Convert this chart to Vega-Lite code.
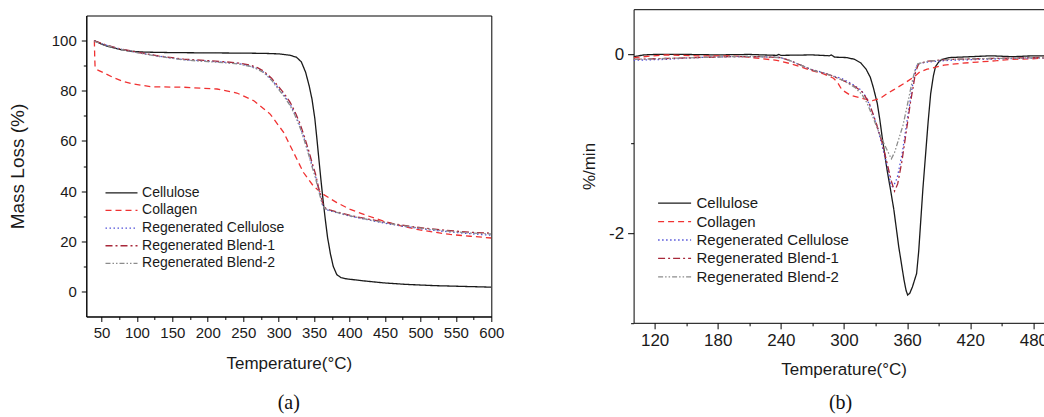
{
  "$schema": "https://vega.github.io/schema/vega-lite/v6.json",
  "autosize": {"type": "pad"},
  "padding": {"left": 7.3, "top": 9, "right": 0, "bottom": 0},
  "background": "white",
  "bounds": "flush",
  "center": true,
  "spacing": 142.3,
  "config": {
    "view": {"stroke": "#000", "strokeWidth": 1},
    "axis": {
      "grid": false,
      "domainColor": "#000",
      "tickColor": "#000",
      "labelColor": "#1a1a1a",
      "titleColor": "#1a1a1a",
      "labelFont": "Liberation Sans",
      "titleFont": "Liberation Sans",
      "titleFontWeight": "normal",
      "labelFlush": false,
      "labelOverlap": false,
      "labelBound": false
    },
    "legend": {
      "orient": "none",
      "symbolSize": 16,
      "symbolStrokeWidth": 1.3,
      "labelFont": "Liberation Sans",
      "labelColor": "#1a1a1a",
      "padding": 0,
      "title": null
    },
    "title": {"font": "Liberation Serif", "fontWeight": "normal", "color": "#111"}
  },
  "datasets": {
    "tga": [
      {"series": "Cellulose", "T": 39.9, "v": 100},
      {"series": "Cellulose", "T": 50, "v": 98.6},
      {"series": "Cellulose", "T": 60, "v": 97.6},
      {"series": "Cellulose", "T": 75, "v": 96.5},
      {"series": "Cellulose", "T": 90, "v": 95.8},
      {"series": "Cellulose", "T": 110, "v": 95.4},
      {"series": "Cellulose", "T": 150, "v": 95.2},
      {"series": "Cellulose", "T": 200, "v": 95.1},
      {"series": "Cellulose", "T": 250, "v": 95.0},
      {"series": "Cellulose", "T": 280, "v": 94.9},
      {"series": "Cellulose", "T": 300, "v": 94.7},
      {"series": "Cellulose", "T": 315, "v": 94.2},
      {"series": "Cellulose", "T": 325, "v": 93.4},
      {"series": "Cellulose", "T": 332, "v": 91.5},
      {"series": "Cellulose", "T": 338, "v": 87.4},
      {"series": "Cellulose", "T": 343, "v": 82},
      {"series": "Cellulose", "T": 347, "v": 76.7},
      {"series": "Cellulose", "T": 351, "v": 69},
      {"series": "Cellulose", "T": 354, "v": 60.7},
      {"series": "Cellulose", "T": 357, "v": 52},
      {"series": "Cellulose", "T": 360, "v": 43.5},
      {"series": "Cellulose", "T": 363, "v": 35.5},
      {"series": "Cellulose", "T": 366, "v": 28.2},
      {"series": "Cellulose", "T": 369, "v": 21.5},
      {"series": "Cellulose", "T": 373, "v": 15},
      {"series": "Cellulose", "T": 377, "v": 10},
      {"series": "Cellulose", "T": 382, "v": 6.7},
      {"series": "Cellulose", "T": 388, "v": 5.5},
      {"series": "Cellulose", "T": 396, "v": 5},
      {"series": "Cellulose", "T": 420, "v": 4.2},
      {"series": "Cellulose", "T": 448, "v": 3.4},
      {"series": "Cellulose", "T": 480, "v": 2.8},
      {"series": "Cellulose", "T": 520, "v": 2.3},
      {"series": "Cellulose", "T": 560, "v": 2.0},
      {"series": "Cellulose", "T": 600, "v": 1.7},
      {"series": "Collagen", "T": 40, "v": 100},
      {"series": "Collagen", "T": 40.5, "v": 93},
      {"series": "Collagen", "T": 41, "v": 89.5},
      {"series": "Collagen", "T": 45, "v": 88.2},
      {"series": "Collagen", "T": 53, "v": 87.2},
      {"series": "Collagen", "T": 65, "v": 85.5},
      {"series": "Collagen", "T": 80, "v": 83.8},
      {"series": "Collagen", "T": 95, "v": 82.7},
      {"series": "Collagen", "T": 120, "v": 81.6},
      {"series": "Collagen", "T": 166, "v": 81.4},
      {"series": "Collagen", "T": 213, "v": 80.7},
      {"series": "Collagen", "T": 241, "v": 79.1},
      {"series": "Collagen", "T": 265, "v": 76},
      {"series": "Collagen", "T": 288, "v": 70.7},
      {"series": "Collagen", "T": 307, "v": 63.4},
      {"series": "Collagen", "T": 321, "v": 55.4},
      {"series": "Collagen", "T": 335, "v": 47.4},
      {"series": "Collagen", "T": 349, "v": 42},
      {"series": "Collagen", "T": 363, "v": 38.7},
      {"series": "Collagen", "T": 382, "v": 35.4},
      {"series": "Collagen", "T": 401, "v": 32.7},
      {"series": "Collagen", "T": 425, "v": 30.2},
      {"series": "Collagen", "T": 448, "v": 28},
      {"series": "Collagen", "T": 470, "v": 26.3},
      {"series": "Collagen", "T": 495, "v": 24.7},
      {"series": "Collagen", "T": 520, "v": 23.6},
      {"series": "Collagen", "T": 542, "v": 22.7},
      {"series": "Collagen", "T": 570, "v": 22},
      {"series": "Collagen", "T": 600, "v": 21.3},
      {"series": "Regenerated Cellulose", "T": 40, "v": 99.8},
      {"series": "Regenerated Cellulose", "T": 55, "v": 98.3},
      {"series": "Regenerated Cellulose", "T": 75, "v": 96.7},
      {"series": "Regenerated Cellulose", "T": 100, "v": 95.3},
      {"series": "Regenerated Cellulose", "T": 130, "v": 93.8},
      {"series": "Regenerated Cellulose", "T": 166, "v": 92.4},
      {"series": "Regenerated Cellulose", "T": 200, "v": 91.8},
      {"series": "Regenerated Cellulose", "T": 222, "v": 91.4},
      {"series": "Regenerated Cellulose", "T": 245, "v": 90.8},
      {"series": "Regenerated Cellulose", "T": 260, "v": 89.8},
      {"series": "Regenerated Cellulose", "T": 270, "v": 88.8},
      {"series": "Regenerated Cellulose", "T": 279, "v": 87.4},
      {"series": "Regenerated Cellulose", "T": 290, "v": 84.5},
      {"series": "Regenerated Cellulose", "T": 297, "v": 82},
      {"series": "Regenerated Cellulose", "T": 307, "v": 78.5},
      {"series": "Regenerated Cellulose", "T": 316, "v": 74.7},
      {"series": "Regenerated Cellulose", "T": 323, "v": 70.8},
      {"series": "Regenerated Cellulose", "T": 330, "v": 66},
      {"series": "Regenerated Cellulose", "T": 336, "v": 61},
      {"series": "Regenerated Cellulose", "T": 342, "v": 55.4},
      {"series": "Regenerated Cellulose", "T": 347, "v": 50.5},
      {"series": "Regenerated Cellulose", "T": 352, "v": 46},
      {"series": "Regenerated Cellulose", "T": 356, "v": 41},
      {"series": "Regenerated Cellulose", "T": 359, "v": 38},
      {"series": "Regenerated Cellulose", "T": 362, "v": 34.5},
      {"series": "Regenerated Cellulose", "T": 366, "v": 32.8},
      {"series": "Regenerated Cellulose", "T": 372, "v": 32.2},
      {"series": "Regenerated Cellulose", "T": 382, "v": 31.4},
      {"series": "Regenerated Cellulose", "T": 401, "v": 30},
      {"series": "Regenerated Cellulose", "T": 425, "v": 28.6},
      {"series": "Regenerated Cellulose", "T": 448, "v": 27.3},
      {"series": "Regenerated Cellulose", "T": 470, "v": 26.2},
      {"series": "Regenerated Cellulose", "T": 495, "v": 25.2},
      {"series": "Regenerated Cellulose", "T": 520, "v": 24.3},
      {"series": "Regenerated Cellulose", "T": 542, "v": 23.7},
      {"series": "Regenerated Cellulose", "T": 570, "v": 23},
      {"series": "Regenerated Cellulose", "T": 600, "v": 22.4},
      {"series": "Regenerated Blend-1", "T": 40, "v": 99.9},
      {"series": "Regenerated Blend-1", "T": 55, "v": 98.4},
      {"series": "Regenerated Blend-1", "T": 75, "v": 96.8},
      {"series": "Regenerated Blend-1", "T": 100, "v": 95.4},
      {"series": "Regenerated Blend-1", "T": 130, "v": 93.9},
      {"series": "Regenerated Blend-1", "T": 166, "v": 92.6},
      {"series": "Regenerated Blend-1", "T": 200, "v": 92.0},
      {"series": "Regenerated Blend-1", "T": 222, "v": 91.6},
      {"series": "Regenerated Blend-1", "T": 245, "v": 91.0},
      {"series": "Regenerated Blend-1", "T": 260, "v": 90.2},
      {"series": "Regenerated Blend-1", "T": 270, "v": 89.2},
      {"series": "Regenerated Blend-1", "T": 279, "v": 87.8},
      {"series": "Regenerated Blend-1", "T": 290, "v": 85.0},
      {"series": "Regenerated Blend-1", "T": 297, "v": 82.6},
      {"series": "Regenerated Blend-1", "T": 307, "v": 79.2},
      {"series": "Regenerated Blend-1", "T": 316, "v": 75.5},
      {"series": "Regenerated Blend-1", "T": 323, "v": 71.6},
      {"series": "Regenerated Blend-1", "T": 330, "v": 67},
      {"series": "Regenerated Blend-1", "T": 336, "v": 62},
      {"series": "Regenerated Blend-1", "T": 342, "v": 56.5},
      {"series": "Regenerated Blend-1", "T": 347, "v": 51.5},
      {"series": "Regenerated Blend-1", "T": 352, "v": 46.8},
      {"series": "Regenerated Blend-1", "T": 356, "v": 41.8},
      {"series": "Regenerated Blend-1", "T": 359, "v": 38.6},
      {"series": "Regenerated Blend-1", "T": 362, "v": 35.2},
      {"series": "Regenerated Blend-1", "T": 366, "v": 33.2},
      {"series": "Regenerated Blend-1", "T": 372, "v": 32.5},
      {"series": "Regenerated Blend-1", "T": 382, "v": 31.7},
      {"series": "Regenerated Blend-1", "T": 401, "v": 30.3},
      {"series": "Regenerated Blend-1", "T": 425, "v": 28.9},
      {"series": "Regenerated Blend-1", "T": 448, "v": 27.7},
      {"series": "Regenerated Blend-1", "T": 470, "v": 26.6},
      {"series": "Regenerated Blend-1", "T": 495, "v": 25.6},
      {"series": "Regenerated Blend-1", "T": 520, "v": 24.8},
      {"series": "Regenerated Blend-1", "T": 542, "v": 24.2},
      {"series": "Regenerated Blend-1", "T": 570, "v": 23.6},
      {"series": "Regenerated Blend-1", "T": 600, "v": 23.2},
      {"series": "Regenerated Blend-2", "T": 40, "v": 99.7},
      {"series": "Regenerated Blend-2", "T": 55, "v": 98.2},
      {"series": "Regenerated Blend-2", "T": 75, "v": 96.6},
      {"series": "Regenerated Blend-2", "T": 100, "v": 95.2},
      {"series": "Regenerated Blend-2", "T": 130, "v": 93.7},
      {"series": "Regenerated Blend-2", "T": 166, "v": 92.3},
      {"series": "Regenerated Blend-2", "T": 200, "v": 91.6},
      {"series": "Regenerated Blend-2", "T": 222, "v": 91.2},
      {"series": "Regenerated Blend-2", "T": 245, "v": 90.6},
      {"series": "Regenerated Blend-2", "T": 260, "v": 89.7},
      {"series": "Regenerated Blend-2", "T": 270, "v": 88.6},
      {"series": "Regenerated Blend-2", "T": 279, "v": 87.2},
      {"series": "Regenerated Blend-2", "T": 290, "v": 84.2},
      {"series": "Regenerated Blend-2", "T": 297, "v": 81.6},
      {"series": "Regenerated Blend-2", "T": 307, "v": 78},
      {"series": "Regenerated Blend-2", "T": 316, "v": 74.2},
      {"series": "Regenerated Blend-2", "T": 323, "v": 70.2},
      {"series": "Regenerated Blend-2", "T": 330, "v": 65.4},
      {"series": "Regenerated Blend-2", "T": 336, "v": 60.4},
      {"series": "Regenerated Blend-2", "T": 342, "v": 54.8},
      {"series": "Regenerated Blend-2", "T": 347, "v": 49.8},
      {"series": "Regenerated Blend-2", "T": 352, "v": 45.2},
      {"series": "Regenerated Blend-2", "T": 356, "v": 40.4},
      {"series": "Regenerated Blend-2", "T": 359, "v": 37.4},
      {"series": "Regenerated Blend-2", "T": 362, "v": 34.2},
      {"series": "Regenerated Blend-2", "T": 366, "v": 32.9},
      {"series": "Regenerated Blend-2", "T": 372, "v": 32.3},
      {"series": "Regenerated Blend-2", "T": 382, "v": 31.5},
      {"series": "Regenerated Blend-2", "T": 401, "v": 30.1},
      {"series": "Regenerated Blend-2", "T": 425, "v": 28.7},
      {"series": "Regenerated Blend-2", "T": 448, "v": 27.5},
      {"series": "Regenerated Blend-2", "T": 470, "v": 26.4},
      {"series": "Regenerated Blend-2", "T": 495, "v": 25.4},
      {"series": "Regenerated Blend-2", "T": 520, "v": 24.6},
      {"series": "Regenerated Blend-2", "T": 542, "v": 23.9},
      {"series": "Regenerated Blend-2", "T": 570, "v": 23.3},
      {"series": "Regenerated Blend-2", "T": 600, "v": 22.9}
    ],
    "dtg": [
      {"series": "Cellulose", "T": 100, "v": -0.03},
      {"series": "Cellulose", "T": 110, "v": -0.01},
      {"series": "Cellulose", "T": 120, "v": -0.005},
      {"series": "Cellulose", "T": 150, "v": -0.005},
      {"series": "Cellulose", "T": 180, "v": -0.01},
      {"series": "Cellulose", "T": 210, "v": -0.005},
      {"series": "Cellulose", "T": 236, "v": -0.015},
      {"series": "Cellulose", "T": 238, "v": -0.005},
      {"series": "Cellulose", "T": 240, "v": -0.015},
      {"series": "Cellulose", "T": 270, "v": -0.01},
      {"series": "Cellulose", "T": 286, "v": -0.02},
      {"series": "Cellulose", "T": 288, "v": -0.01},
      {"series": "Cellulose", "T": 291, "v": -0.035},
      {"series": "Cellulose", "T": 303, "v": -0.04},
      {"series": "Cellulose", "T": 310, "v": -0.06},
      {"series": "Cellulose", "T": 316, "v": -0.1},
      {"series": "Cellulose", "T": 321, "v": -0.17},
      {"series": "Cellulose", "T": 325, "v": -0.26},
      {"series": "Cellulose", "T": 328, "v": -0.38},
      {"series": "Cellulose", "T": 331.6, "v": -0.55},
      {"series": "Cellulose", "T": 334, "v": -0.73},
      {"series": "Cellulose", "T": 336.3, "v": -0.93},
      {"series": "Cellulose", "T": 341, "v": -1.3},
      {"series": "Cellulose", "T": 344, "v": -1.5},
      {"series": "Cellulose", "T": 347.4, "v": -1.74},
      {"series": "Cellulose", "T": 352, "v": -2.15},
      {"series": "Cellulose", "T": 357, "v": -2.52},
      {"series": "Cellulose", "T": 359, "v": -2.64},
      {"series": "Cellulose", "T": 360.5, "v": -2.69},
      {"series": "Cellulose", "T": 362.5, "v": -2.67},
      {"series": "Cellulose", "T": 365, "v": -2.6},
      {"series": "Cellulose", "T": 369, "v": -2.45},
      {"series": "Cellulose", "T": 371, "v": -2.2},
      {"series": "Cellulose", "T": 373, "v": -1.85},
      {"series": "Cellulose", "T": 375, "v": -1.5},
      {"series": "Cellulose", "T": 377.6, "v": -1.11},
      {"series": "Cellulose", "T": 380, "v": -0.75},
      {"series": "Cellulose", "T": 382.4, "v": -0.44},
      {"series": "Cellulose", "T": 385, "v": -0.24},
      {"series": "Cellulose", "T": 387, "v": -0.14},
      {"series": "Cellulose", "T": 390, "v": -0.09},
      {"series": "Cellulose", "T": 393, "v": -0.06},
      {"series": "Cellulose", "T": 400, "v": -0.04},
      {"series": "Cellulose", "T": 420, "v": -0.03},
      {"series": "Cellulose", "T": 440, "v": -0.02},
      {"series": "Cellulose", "T": 460, "v": -0.03},
      {"series": "Cellulose", "T": 480, "v": -0.02},
      {"series": "Cellulose", "T": 500, "v": -0.02},
      {"series": "Collagen", "T": 100, "v": -0.04},
      {"series": "Collagen", "T": 130, "v": -0.01},
      {"series": "Collagen", "T": 160, "v": -0.02},
      {"series": "Collagen", "T": 190, "v": -0.02},
      {"series": "Collagen", "T": 205, "v": -0.03},
      {"series": "Collagen", "T": 220, "v": -0.05},
      {"series": "Collagen", "T": 236, "v": -0.07},
      {"series": "Collagen", "T": 250, "v": -0.11},
      {"series": "Collagen", "T": 268, "v": -0.18},
      {"series": "Collagen", "T": 280, "v": -0.22},
      {"series": "Collagen", "T": 290, "v": -0.27},
      {"series": "Collagen", "T": 294, "v": -0.32},
      {"series": "Collagen", "T": 298, "v": -0.4},
      {"series": "Collagen", "T": 306, "v": -0.46},
      {"series": "Collagen", "T": 319, "v": -0.5},
      {"series": "Collagen", "T": 327, "v": -0.52},
      {"series": "Collagen", "T": 334, "v": -0.5},
      {"series": "Collagen", "T": 340, "v": -0.45},
      {"series": "Collagen", "T": 347, "v": -0.4},
      {"series": "Collagen", "T": 357, "v": -0.33},
      {"series": "Collagen", "T": 366, "v": -0.26},
      {"series": "Collagen", "T": 372, "v": -0.2},
      {"series": "Collagen", "T": 379, "v": -0.17},
      {"series": "Collagen", "T": 395, "v": -0.125},
      {"series": "Collagen", "T": 410, "v": -0.105},
      {"series": "Collagen", "T": 427, "v": -0.09},
      {"series": "Collagen", "T": 445, "v": -0.075},
      {"series": "Collagen", "T": 458, "v": -0.06},
      {"series": "Collagen", "T": 475, "v": -0.055},
      {"series": "Collagen", "T": 493, "v": -0.045},
      {"series": "Collagen", "T": 500, "v": -0.04},
      {"series": "Regenerated Cellulose", "T": 100, "v": -0.07},
      {"series": "Regenerated Cellulose", "T": 130, "v": -0.06},
      {"series": "Regenerated Cellulose", "T": 160, "v": -0.04},
      {"series": "Regenerated Cellulose", "T": 190, "v": -0.03},
      {"series": "Regenerated Cellulose", "T": 220, "v": -0.03},
      {"series": "Regenerated Cellulose", "T": 240, "v": -0.04},
      {"series": "Regenerated Cellulose", "T": 250, "v": -0.08},
      {"series": "Regenerated Cellulose", "T": 259, "v": -0.125},
      {"series": "Regenerated Cellulose", "T": 268, "v": -0.17},
      {"series": "Regenerated Cellulose", "T": 278, "v": -0.2},
      {"series": "Regenerated Cellulose", "T": 288, "v": -0.24},
      {"series": "Regenerated Cellulose", "T": 297, "v": -0.27},
      {"series": "Regenerated Cellulose", "T": 307, "v": -0.33},
      {"series": "Regenerated Cellulose", "T": 316, "v": -0.4},
      {"series": "Regenerated Cellulose", "T": 321, "v": -0.48},
      {"series": "Regenerated Cellulose", "T": 325, "v": -0.59},
      {"series": "Regenerated Cellulose", "T": 331.6, "v": -0.81},
      {"series": "Regenerated Cellulose", "T": 338, "v": -1.11},
      {"series": "Regenerated Cellulose", "T": 342, "v": -1.3},
      {"series": "Regenerated Cellulose", "T": 344.3, "v": -1.46},
      {"series": "Regenerated Cellulose", "T": 346, "v": -1.48},
      {"series": "Regenerated Cellulose", "T": 348, "v": -1.45},
      {"series": "Regenerated Cellulose", "T": 350.6, "v": -1.38},
      {"series": "Regenerated Cellulose", "T": 355.3, "v": -1.11},
      {"series": "Regenerated Cellulose", "T": 360, "v": -0.74},
      {"series": "Regenerated Cellulose", "T": 364.8, "v": -0.37},
      {"series": "Regenerated Cellulose", "T": 368, "v": -0.17},
      {"series": "Regenerated Cellulose", "T": 370, "v": -0.11},
      {"series": "Regenerated Cellulose", "T": 379, "v": -0.09},
      {"series": "Regenerated Cellulose", "T": 400, "v": -0.07},
      {"series": "Regenerated Cellulose", "T": 430, "v": -0.06},
      {"series": "Regenerated Cellulose", "T": 460, "v": -0.05},
      {"series": "Regenerated Cellulose", "T": 500, "v": -0.04},
      {"series": "Regenerated Blend-1", "T": 100, "v": -0.06},
      {"series": "Regenerated Blend-1", "T": 130, "v": -0.05},
      {"series": "Regenerated Blend-1", "T": 160, "v": -0.04},
      {"series": "Regenerated Blend-1", "T": 190, "v": -0.03},
      {"series": "Regenerated Blend-1", "T": 220, "v": -0.03},
      {"series": "Regenerated Blend-1", "T": 240, "v": -0.04},
      {"series": "Regenerated Blend-1", "T": 250, "v": -0.08},
      {"series": "Regenerated Blend-1", "T": 260, "v": -0.13},
      {"series": "Regenerated Blend-1", "T": 270, "v": -0.18},
      {"series": "Regenerated Blend-1", "T": 280, "v": -0.21},
      {"series": "Regenerated Blend-1", "T": 290, "v": -0.25},
      {"series": "Regenerated Blend-1", "T": 300, "v": -0.3},
      {"series": "Regenerated Blend-1", "T": 310, "v": -0.36},
      {"series": "Regenerated Blend-1", "T": 318, "v": -0.43},
      {"series": "Regenerated Blend-1", "T": 324, "v": -0.55},
      {"series": "Regenerated Blend-1", "T": 330, "v": -0.75},
      {"series": "Regenerated Blend-1", "T": 336, "v": -0.98},
      {"series": "Regenerated Blend-1", "T": 341, "v": -1.22},
      {"series": "Regenerated Blend-1", "T": 345, "v": -1.42},
      {"series": "Regenerated Blend-1", "T": 348, "v": -1.53},
      {"series": "Regenerated Blend-1", "T": 351, "v": -1.45},
      {"series": "Regenerated Blend-1", "T": 355, "v": -1.2},
      {"series": "Regenerated Blend-1", "T": 359, "v": -0.88},
      {"series": "Regenerated Blend-1", "T": 363, "v": -0.55},
      {"series": "Regenerated Blend-1", "T": 366, "v": -0.35},
      {"series": "Regenerated Blend-1", "T": 368, "v": -0.2},
      {"series": "Regenerated Blend-1", "T": 371, "v": -0.11},
      {"series": "Regenerated Blend-1", "T": 380, "v": -0.08},
      {"series": "Regenerated Blend-1", "T": 400, "v": -0.06},
      {"series": "Regenerated Blend-1", "T": 440, "v": -0.05},
      {"series": "Regenerated Blend-1", "T": 500, "v": -0.035},
      {"series": "Regenerated Blend-2", "T": 100, "v": -0.06},
      {"series": "Regenerated Blend-2", "T": 130, "v": -0.05},
      {"series": "Regenerated Blend-2", "T": 160, "v": -0.04},
      {"series": "Regenerated Blend-2", "T": 190, "v": -0.03},
      {"series": "Regenerated Blend-2", "T": 220, "v": -0.03},
      {"series": "Regenerated Blend-2", "T": 240, "v": -0.04},
      {"series": "Regenerated Blend-2", "T": 250, "v": -0.08},
      {"series": "Regenerated Blend-2", "T": 260, "v": -0.13},
      {"series": "Regenerated Blend-2", "T": 270, "v": -0.18},
      {"series": "Regenerated Blend-2", "T": 280, "v": -0.21},
      {"series": "Regenerated Blend-2", "T": 290, "v": -0.25},
      {"series": "Regenerated Blend-2", "T": 300, "v": -0.3},
      {"series": "Regenerated Blend-2", "T": 310, "v": -0.37},
      {"series": "Regenerated Blend-2", "T": 317, "v": -0.45},
      {"series": "Regenerated Blend-2", "T": 322, "v": -0.55},
      {"series": "Regenerated Blend-2", "T": 328, "v": -0.72},
      {"series": "Regenerated Blend-2", "T": 334, "v": -0.9},
      {"series": "Regenerated Blend-2", "T": 340, "v": -1.05},
      {"series": "Regenerated Blend-2", "T": 345, "v": -1.17},
      {"series": "Regenerated Blend-2", "T": 348, "v": -1.1},
      {"series": "Regenerated Blend-2", "T": 352, "v": -0.95},
      {"series": "Regenerated Blend-2", "T": 356, "v": -0.8},
      {"series": "Regenerated Blend-2", "T": 360, "v": -0.58},
      {"series": "Regenerated Blend-2", "T": 364, "v": -0.35},
      {"series": "Regenerated Blend-2", "T": 367, "v": -0.2},
      {"series": "Regenerated Blend-2", "T": 370, "v": -0.11},
      {"series": "Regenerated Blend-2", "T": 380, "v": -0.08},
      {"series": "Regenerated Blend-2", "T": 400, "v": -0.06},
      {"series": "Regenerated Blend-2", "T": 440, "v": -0.05},
      {"series": "Regenerated Blend-2", "T": 500, "v": -0.04}
    ]
  },
  "hconcat": [
    {
      "width": 405,
      "height": 301,
      "title": {"text": "(a)", "orient": "bottom", "anchor": "middle", "frame": "group", "fontSize": 20, "offset": 22},
      "data": {"name": "tga"},
      "mark": {"type": "line", "strokeWidth": 1.3, "clip": true},
      "encoding": {
        "x": {
          "field": "T", "type": "quantitative",
          "scale": {"domain": [28.6, 600], "nice": false, "zero": false},
          "axis": {
            "title": "Temperature(°C)",
            "values": [50, 75, 100, 125, 150, 175, 200, 225, 250, 275, 300, 325, 350, 375, 400, 425, 450, 475, 500, 525, 550, 575, 600],
            "labelExpr": "datum.value % 50 === 0 ? toString(datum.value) : ''",
            "tickSize": {"condition": {"test": "datum.value % 50 === 0", "value": 5}, "value": 3},
            "labelFontSize": 15,
            "labelPadding": 4,
            "titleFontSize": 17,
            "titlePadding": 15
          }
        },
        "y": {
          "field": "v", "type": "quantitative",
          "scale": {"domain": [-10, 110], "nice": false, "zero": false},
          "axis": {
            "title": "Mass Loss (%)",
            "values": [0, 10, 20, 30, 40, 50, 60, 70, 80, 90, 100],
            "labelExpr": "datum.value % 20 === 0 ? toString(datum.value) : ''",
            "tickSize": {"condition": {"test": "datum.value % 20 === 0", "value": 5}, "value": 3},
            "labelFontSize": 15,
            "labelPadding": 5,
            "titleFontSize": 19,
            "titlePadding": 24
          }
        },
        "color": {
          "field": "series", "type": "nominal",
          "scale": {
            "domain": ["Cellulose", "Collagen", "Regenerated Cellulose", "Regenerated Blend-1", "Regenerated Blend-2"],
            "range": ["#1a1a1a", "#f03232", "#5050d8", "#a8283a", "#8c8c8c"]
          },
          "legend": {"symbolType": "M-8,0H8", "legendX": 28.2, "legendY": 170.3, "labelFontSize": 14, "labelOffset": 13.6, "rowPadding": 3.65}
        },
        "strokeDash": {
          "field": "series", "type": "nominal",
          "scale": {
            "domain": ["Cellulose", "Collagen", "Regenerated Cellulose", "Regenerated Blend-1", "Regenerated Blend-2"],
            "range": [[1, 0], [6, 4], [1.5, 2.5], [7, 3, 2, 3], [5, 2, 1.5, 2, 1.5, 2]]
          },
          "legend": {"symbolType": "M-8,0H8", "legendX": 28.2, "legendY": 170.3, "labelFontSize": 14, "labelOffset": 13.6, "rowPadding": 3.65}
        }
      }
    },
    {
      "width": 414,
      "height": 313.6,
      "view": {"stroke": null},
      "title": {"text": "(b)", "orient": "bottom", "anchor": "middle", "frame": "group", "fontSize": 20, "offset": 15},
      "data": {"name": "dtg"},
      "layer": [
        {
          "mark": {"type": "line", "strokeWidth": 1.3, "clip": true},
          "encoding": {
            "x": {
              "field": "T", "type": "quantitative",
              "scale": {"domain": [100, 493.5], "nice": false, "zero": false},
              "axis": {
                "title": "Temperature(°C)",
                "titleX": 210,
                "values": [120, 150, 180, 210, 240, 270, 300, 330, 360, 390, 420, 450, 480],
                "labelExpr": "datum.value % 60 === 0 ? toString(datum.value) : ''",
                "tickSize": {"condition": {"test": "datum.value % 60 === 0", "value": 6}, "value": 3},
                "labelFontSize": 17,
                "labelPadding": 4,
                "titleFontSize": 17,
                "titlePadding": 13
              }
            },
            "y": {
              "field": "v", "type": "quantitative",
              "scale": {"domain": [-3, 0.5], "nice": false, "zero": false},
              "axis": {
                "title": "%/min",
                "values": [-3, -2, -1, 0],
                "labelExpr": "datum.value % 2 === 0 ? toString(datum.value) : ''",
                "tickSize": {"condition": {"test": "datum.value % 2 === 0", "value": 6}, "value": 3},
                "labelFontSize": 17,
                "labelPadding": 4,
                "titleFontSize": 17,
                "titlePadding": 10
              }
            },
            "color": {
              "field": "series", "type": "nominal",
              "scale": {
                "domain": ["Cellulose", "Collagen", "Regenerated Cellulose", "Regenerated Blend-1", "Regenerated Blend-2"],
                "range": ["#1a1a1a", "#f03232", "#5050d8", "#a8283a", "#8c8c8c"]
              },
              "legend": {"symbolType": "M-8.25,0H8.25", "legendX": 33.5, "legendY": 186.5, "labelFontSize": 15, "labelOffset": 14.4, "rowPadding": 2.4}
            },
            "strokeDash": {
              "field": "series", "type": "nominal",
              "scale": {
                "domain": ["Cellulose", "Collagen", "Regenerated Cellulose", "Regenerated Blend-1", "Regenerated Blend-2"],
                "range": [[1, 0], [6, 4], [1.5, 2.5], [7, 3, 2, 3], [5, 2, 1.5, 2, 1.5, 2]]
              },
              "legend": {"symbolType": "M-8.25,0H8.25", "legendX": 33.5, "legendY": 186.5, "labelFontSize": 15, "labelOffset": 14.4, "rowPadding": 2.4}
            }
          }
        },
        {
          "mark": {"type": "line", "strokeOpacity": 0, "clip": true},
          "encoding": {
            "x": {
              "field": "T", "type": "quantitative",
              "axis": {"orient": "top", "title": null, "labels": false, "ticks": false}
            },
            "y": {"field": "v", "type": "quantitative"},
            "detail": {"field": "series"}
          }
        }
      ],
      "resolve": {"axis": {"x": "independent"}}
    }
  ],
  "resolve": {
    "scale": {"color": "independent", "strokeDash": "independent"},
    "legend": {"color": "independent", "strokeDash": "independent"}
  }
}
